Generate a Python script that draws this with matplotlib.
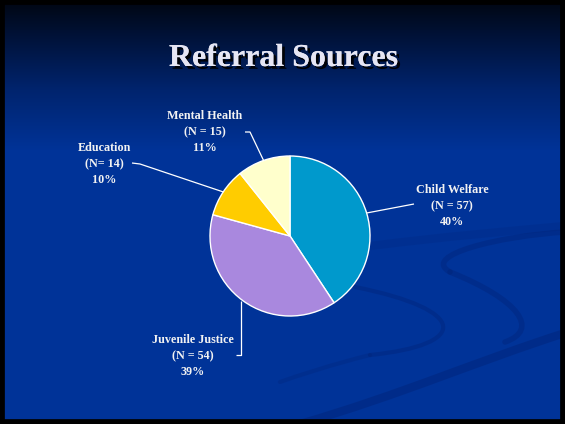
import numpy as np
import matplotlib
matplotlib.use("Agg")
import matplotlib.pyplot as plt
from matplotlib.path import Path
from matplotlib.patches import PathPatch, Rectangle
import matplotlib.patheffects as pe

# ---- data ----
categories = ["Child Welfare", "Juvenile Justice", "Education", "Mental Health"]
counts = [57, 54, 14, 15]
n_labels = ["(N = 57)", "(N = 54)", "(N= 14)", "(N = 15)"]
pct_labels = ["40%", "39%", "10%", "11%"]
colors = ["#0099CC", "#A988DE", "#FFCC00", "#FFFFCC"]
title = "Referral Sources"

W, H = 565, 424
fig = plt.figure(figsize=(W / 100, H / 100), dpi=100)
ax = fig.add_axes([0, 0, 1, 1])
ax.set_xlim(0, W)
ax.set_ylim(0, H)
ax.axis("off")

def Y(y):  # image y -> axis y
    return H - y

# ---- background gradient ----
ys = np.arange(H)
stops_y = [0, 30, 90, 150, H]
stops_c = np.array([[0, 6, 18], [0, 16, 50], [0, 36, 110], [0, 51, 152], [0, 51, 152]]) / 255.0
grad = np.stack([np.interp(ys, stops_y, stops_c[:, k]) for k in range(3)], axis=1)
img = np.repeat(grad[:, None, :], 2, axis=1)
ax.imshow(img, extent=[0, W, 0, H], origin="upper", aspect="auto", zorder=0)

# ---- decorative swooshes ----
def swoosh(verts, lw, alpha, color=(0, 0.13, 0.45)):
    codes = [Path.MOVETO] + [Path.CURVE4] * (len(verts) - 1)
    p = Path([(x, Y(y)) for x, y in verts], codes)
    ax.add_patch(PathPatch(p, fill=False, lw=lw, edgecolor=color, alpha=alpha,
                           capstyle="round", zorder=1))

swoosh([(300, 424), (400, 395), (480, 360), (565, 333)], 6, 0.4)
swoosh([(355, 287), (470, 310), (470, 345), (370, 355)], 3, 0.35)
swoosh([(370, 355), (330, 365), (300, 375), (280, 382)], 3, 0.25)
swoosh([(565, 232), (500, 236), (420, 255), (450, 272)], 4, 0.35)
swoosh([(450, 272), (520, 300), (540, 330), (505, 342)], 4, 0.35)
swoosh([(370, 246), (450, 236), (500, 232), (565, 226)], 6, 0.18)

# ---- slide border ----
ax.add_patch(Rectangle((0, 0), W, H, fill=False, lw=7, edgecolor="black", zorder=10))

# ---- title ----
ax.text(284, Y(66), title, ha="center", va="baseline", fontsize=23,
        fontweight="bold", family="Liberation Serif", color="#E6E6F4", zorder=5,
        path_effects=[pe.withSimplePatchShadow(offset=(2, -2), shadow_rgbFace="black", alpha=0.9),
                      pe.Normal()])

# ---- pie ----
cx, cy, r = 290, 236, 80
wedges, _ = ax.pie(counts, colors=colors, startangle=90, counterclock=False,
                   center=(cx, Y(cy)), radius=r, frame=True,
                   wedgeprops=dict(edgecolor="white", linewidth=1))
for w in wedges:
    w.set_zorder(3)
ax.set_xlim(0, W)
ax.set_ylim(0, H)
ax.axis("off")

# ---- labels & leader lines ----
label_pos = [(452, 206), (193, 356), (104, 164), (205, 132)]
leader_tail = [
    [(414, 204)],
    [(241, 355), (236, 355)],
    [(140, 164), (132, 163)],
    [(250, 132), (245, 132)],
]
for i, w in enumerate(wedges):
    ang = np.deg2rad((w.theta1 + w.theta2) / 2)
    ex, ey = cx + r * np.cos(ang), Y(cy) + r * np.sin(ang)
    pts = [(ex, ey)]
    if i == 1:
        pts = [(241, ey)]
    pts += [(x, Y(y)) for x, y in leader_tail[i]]
    xs, yv = zip(*pts)
    ax.plot(xs, yv, color="white", lw=0.9, zorder=4, solid_capstyle="butt")
    lx, ly = label_pos[i]
    ax.text(lx, Y(ly), f"{categories[i]}\n{n_labels[i]}\n{pct_labels[i]}",
            ha="center", va="center", multialignment="center", linespacing=1.45,
            fontsize=8.7, fontweight="bold", family="Liberation Serif",
            color="#F2F2F2", zorder=5)

fig.savefig("out.png", dpi=100)
